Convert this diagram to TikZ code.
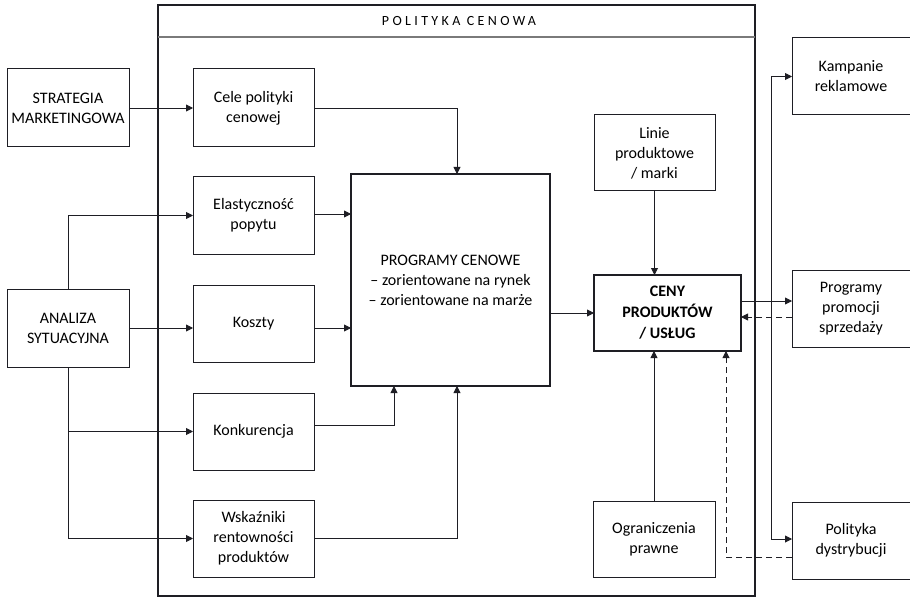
\documentclass[tikz,border=0pt]{standalone}
\usepackage{fontspec}
\setmainfont{Carlito}
\usetikzlibrary{arrows.meta}
\definecolor{ink}{HTML}{1E1E24}
\definecolor{rule}{HTML}{7A7A7A}
\begin{document}
\begin{tikzpicture}[x=1pt,y=-1pt,
  box/.style={draw=ink,line width=1pt,inner sep=0pt,outer sep=0pt,align=center,
    font=\fontsize{16}{20}\selectfont,text=black},
  heavy/.style={box,line width=1.5pt},
  conn/.style={draw=ink,line width=0.9pt,-{Triangle[length=7pt,width=7pt]}},
  plain/.style={draw=ink,line width=0.9pt},
  back/.style={conn,dashed,dash pattern=on 6pt off 4pt}]
\useasboundingbox (0,0) rectangle (910,604);
\clip (0,0) rectangle (910,604);
\fill[white] (0,0) rectangle (910,604);

% pricing policy frame with its title strip
\draw[ink,line width=1.5pt] (158,5) rectangle (755,596);
\draw[rule,line width=1.5pt] (158,37) -- (755,37);
\node[font=\fontsize{14}{16}\selectfont\addfontfeature{LetterSpace=24},text=black] (title) at (459,21) {POLITYKA CENOWA};

% outer inputs
\node[box,minimum width=122,minimum height=78] (strat) at (68,108) {STRATEGIA\\MARKETINGOWA};
\node[box,minimum width=122,minimum height=78] (anal) at (68,328) {ANALIZA\\SYTUACYJNA};

% pricing factors
\node[box,minimum width=121,minimum height=78] (cele) at (253.5,108) {Cele polityki\\cenowej};
\node[box,minimum width=121,minimum height=77] (elast) at (253.5,215.5) {Elastyczność\\popytu};
\node[box,minimum width=121,minimum height=77] (koszty) at (253.5,323.5) {Koszty};
\node[box,minimum width=121,minimum height=77] (konk) at (253.5,431.5) {Konkurencja};
\node[box,minimum width=121,minimum height=77] (wsk) at (253.5,538.5) {Wskaźniki\\rentowności\\produktów};

% pricing programmes and prices
\node[heavy,minimum width=199,minimum height=212] (prog) at (450.5,280) {PROGRAMY CENOWE\\– zorientowane na rynek\\– zorientowane na marże};
\node[box,minimum width=121,minimum height=76] (linie) at (654.5,153) {Linie\\produktowe\\/ marki};
\node[heavy,minimum width=147,minimum height=76,font=\fontsize{16}{21}\selectfont\bfseries] (ceny) at (667.5,313) {CENY\\PRODUKTÓW\\/ USŁUG};
\node[box,minimum width=122,minimum height=76] (ogr) at (654,539) {Ograniczenia\\prawne};

% other marketing-mix elements
\node[box,minimum width=138,minimum height=77] (kamp) at (861,76.5) {\hspace*{-20pt}Kampanie\\\hspace*{-20pt}reklamowe};
\node[box,minimum width=138,minimum height=77] (promo) at (861,308.5) {\hspace*{-20pt}Programy\\\hspace*{-20pt}promocji\\\hspace*{-20pt}sprzedaży};
\node[box,minimum width=138,minimum height=77] (dystr) at (861,540.5) {\hspace*{-20pt}Polityka\\\hspace*{-20pt}dystrybucji};

% junction points
\coordinate (split) at (771,301);
\coordinate (fork) at (68,431.5);

% connectors into the factors
\draw[conn] (strat.east) -- (cele.west);
\draw[conn] (anal.north) |- (elast.west);
\draw[conn] (anal.east) -- (koszty.west |- anal.east);
\draw[plain] (anal.south) -- (fork);
\draw[conn] (fork) -- (konk.west);
\draw[conn] (fork) |- (wsk.west);

% factors into the programmes
\draw[conn] (cele.east) -| (prog.north -| 457,0);
\draw[conn] (elast.east |- 0,214) -- (prog.west |- 0,214);
\draw[conn] (koszty.east |- 0,328) -- (prog.west |- 0,328);
\draw[conn] (konk.east |- 0,425) -| (prog.south -| 394,0);
\draw[conn] (wsk.east) -| (prog.south -| 457,0);

% programmes and constraints into prices
\draw[conn] (prog.east |- 0,313) -- (ceny.west |- 0,313);
\draw[conn] (linie.south) -- (ceny.north -| linie.south);
\draw[conn] (ogr.north) -- (ceny.south -| ogr.north);

% prices out to the marketing mix
\draw[conn] (ceny.east |- split) -- (promo.west |- split);
\draw[conn] (split) |- (kamp.west);
\draw[conn] (split) |- (dystr.west |- 0,539);

% feedback
\draw[back] (promo.west |- 0,317) -- (ceny.east |- 0,317);
\draw[back] (dystr.west |- 0,557) -| (ceny.south -| 726,0);
\end{tikzpicture}
\end{document}
